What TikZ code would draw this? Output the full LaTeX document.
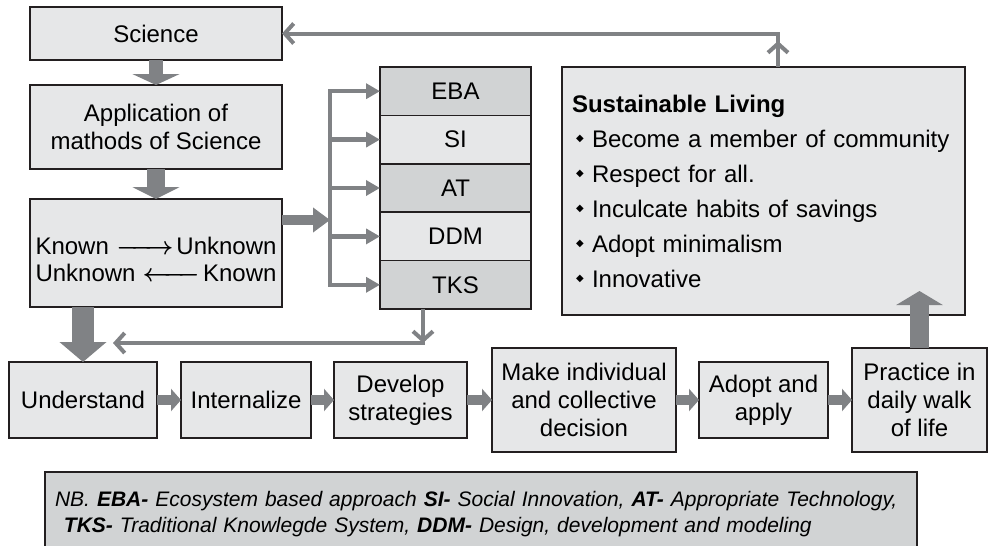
\documentclass[tikz,border=0pt]{standalone}
\usepackage{fontspec}
\setmainfont{Liberation Sans}
\newfontfamily\symfont{DejaVu Sans}
\usetikzlibrary{positioning,arrows.meta}
\definecolor{boxlight}{HTML}{E6E7E8}
\definecolor{boxdark}{HTML}{D1D3D4}
\definecolor{edge}{HTML}{231F20}
\definecolor{arrowgray}{HTML}{808285}
\newcommand{\bul}{\hspace*{4pt}\makebox[16pt][l]{\raisebox{6pt}{\symfont\fontsize{10}{10}\selectfont ◆}}}
\tikzset{
  box/.style={draw=edge, line width=1.6pt, fill=boxlight, align=center, inner sep=2pt, outer sep=0pt, font=\fontsize{24}{28}\selectfont},
  darkbox/.style={box, fill=boxdark},
  layer/.style={minimum width=151pt, minimum height=48.4pt},
  fat/.style={arrowgray, line width=#1},
  fathead/.style 2 args={-{Triangle[width=#1, length=#2]}},
  feed/.style={arrowgray, line width=4pt, -{Straight Barb[length=9pt, width=20pt]}},
  branch/.style={arrowgray, line width=4.5pt, -{Triangle[width=15pt, length=14pt]}},
}
\begin{document}
\begin{tikzpicture}[x=1pt, y=-1pt]
    \useasboundingbox (0,0) rectangle (989,546);
    % left column
    \node (sci) at (156,33.5) [box, minimum width=252pt, minimum height=53pt] {Science};
    \node (app) at (156,127) [box, minimum width=252pt, minimum height=84pt] {Application of\\mathods of Science};
    \node (known) at (156,253) [box, minimum width=252pt, minimum height=108pt, text width=241pt, text height=30pt, align=left, font=\fontsize{24}{27}\selectfont] {Known\hfill{\boldmath\makebox[57pt]{\rightarrowfill}}\hspace{3pt}Unknown\\Unknown\hspace{7pt}{\boldmath\makebox[57pt]{\leftarrowfill}}\hfill Known};

    % stack of approaches
    \node (eba) at (455.5,91.2) [darkbox, layer] {EBA};
    \node (si) [box, layer, below=0pt of eba] {SI};
    \node (tech) [darkbox, layer, below=0pt of si] {AT};
    \node (ddm) [box, layer, below=0pt of tech] {DDM};
    \node (tks) [darkbox, layer, below=0pt of ddm] {TKS};

    \node (sus) at (763.5,191) [box, minimum width=403pt, minimum height=248pt, text width=383pt, align=left, font=\fontsize{24}{35}\selectfont] {\textbf{Sustainable Living}\\
        \bul Become a member of community\\
        \bul Respect for all.\\
        \bul Inculcate habits of savings\\
        \bul Adopt minimalism\\
        \bul Innovative};

    % bottom row
    \node (und) at (83,400) [box, minimum width=148pt, minimum height=76pt] {Understand};
    \node (intl) at (246,400) [box, minimum width=130pt, minimum height=76pt] {Internalize};
    \node (dev) at (400.5,400) [box, minimum width=133pt, minimum height=76pt] {Develop\\strategies};
    \node (dec) at (584,400) [box, minimum width=184pt, minimum height=104pt] {Make individual\\and collective\\decision};
    \node (adopt) at (763.5,400) [box, minimum width=129pt, minimum height=76pt] {Adopt and\\apply};
    \node (prac) at (919.5,400) [box, minimum width=135pt, minimum height=104pt] {Practice in\\daily walk\\of life};

    \node (nb) at (481,514) [darkbox, minimum width=872pt, minimum height=84pt, text width=852pt, align=left, font=\fontsize{21}{26}\selectfont\itshape] {NB. \textbf{EBA-} Ecosystem based approach \textbf{SI-} Social Innovation, \textbf{AT-} Appropriate Technology,\\\hspace*{9pt}\textbf{TKS-} Traditional Knowlegde System, \textbf{DDM-} Design, development and modeling};

    % thick arrows
    \draw[fat=14pt, fathead={47pt}{11pt}] (sci) -- (app);
    \draw[fat=18pt, fathead={47pt}{12pt}] (app) -- (known);
    \draw[fat=22pt, fathead={46pt}{20pt}] (known.south -| und.north) -- (und.north);

    \coordinate (bus) at (330,220);
    \draw[fat=10pt, fathead={24pt}{17pt}] (known.east |- bus) -- (bus);
    \draw[arrowgray, line width=4.5pt, line cap=rect] (eba.west -| bus) -- (tks.west -| bus);
    \draw[branch] (eba.west -| bus) -- (eba.west);
    \draw[branch] (si.west -| bus) -- (si.west);
    \draw[branch] (tech.west -| bus) -- (tech.west);
    \draw[branch] (ddm.west -| bus) -- (ddm.west);
    \draw[branch] (tks.west -| bus) -- (tks.west);

    % feedback lines
    \coordinate (susup) at ([xshift=14.5pt]sus.north);
    \draw[feed] (susup) -- ++(0,-26);
    \draw[feed] (susup) |- (sci.east);

    \coordinate (tksdrop) at ([xshift=-32.5pt]tks.south);
    \coordinate (fb) at (113,343);
    \draw[feed] (tksdrop) -- (tksdrop |- fb);
    \draw[feed] (tksdrop) |- (fb);

    % steps
    \draw[fat=10pt, fathead={22pt}{10pt}] (und) -- (intl);
    \draw[fat=10pt, fathead={22pt}{10pt}] (intl) -- (dev);
    \draw[fat=10pt, fathead={22pt}{10pt}] (dev) -- (dec);
    \draw[fat=10pt, fathead={22pt}{10pt}] (dec) -- (adopt);
    \draw[fat=10pt, fathead={22pt}{10pt}] (adopt) -- (prac);

    \path (prac.north |- sus.south) ++(0,-24) coordinate (slin);
    \draw[fat=19pt, fathead={46pt}{14pt}] (prac) -- (slin);
\end{tikzpicture}
\end{document}
